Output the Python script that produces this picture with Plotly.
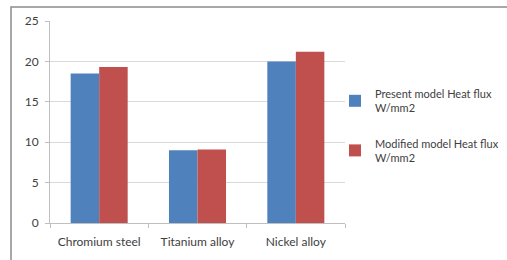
import plotly.graph_objects as go

categories = ["Chromium steel", "Titanium alloy", "Nickel alloy"]
present = [18.5, 9.0, 20.0]
modified = [19.3, 9.1, 21.2]
series_names = ["Present model Heat flux<br>W/mm2", "Modified model Heat flux<br>W/mm2"]
y_ticks = [0, 5, 10, 15, 20, 25]

fig = go.Figure()
fig.add_trace(go.Bar(x=categories, y=present, name=series_names[0],
                     marker=dict(color="#4F81BD", line=dict(width=0)), legendgroup="a"))
fig.add_trace(go.Bar(x=categories, y=modified, name=series_names[1],
                     marker=dict(color="#C0504D", line=dict(width=0)), legendgroup="b"))

font_family = "Lato, Open Sans, sans-serif"
fig.update_layout(
    width=507, height=260,
    margin=dict(l=50, r=162, t=21, b=37, autoexpand=False),
    paper_bgcolor="white", plot_bgcolor="white",
    barmode="group", bargap=0.42, bargroupgap=0,
    font=dict(family=font_family, size=12, color="#404040"),
    showlegend=True,
    legend=dict(xref="container", yref="container",
                x=335 / 507, y=1 - 80 / 260, xanchor="left", yanchor="top",
                font=dict(size=11, color="#404040"),
                tracegroupgap=18, itemwidth=30,
                bgcolor="rgba(0,0,0,0)"),
    xaxis=dict(type="category", showline=True, linecolor="#bfbfbf", linewidth=1,
               ticks="outside", tickson="boundaries", ticklen=4, tickcolor="#bfbfbf",
               showgrid=False, ticklabelstandoff=8,
               tickfont=dict(size=12, color="#404040")),
    yaxis=dict(range=[0, 25], tickvals=y_ticks, showline=True, linecolor="#bfbfbf",
               linewidth=1, ticks="outside", ticklen=4, tickcolor="#bfbfbf",
               showgrid=True, gridcolor="#d9d9d9", gridwidth=1, zeroline=False,
               ticklabelstandoff=4,
               tickfont=dict(size=12, color="#404040")),
    shapes=[dict(type="rect", xref="paper", yref="paper",
                 x0=-39/295, x1=(507 - 50 + 10) / 295,
                 y0=-(37 + 10) / 202, y1=(223 - 7) / 202,
                 line=dict(color="#8c8c8c", width=1.5), fillcolor="rgba(0,0,0,0)",
                 layer="above")],
)

fig.write_html("out.html", config={"displayModeBar": False},
               post_script="document.body.style.margin='0';document.body.style.overflow='hidden';")
